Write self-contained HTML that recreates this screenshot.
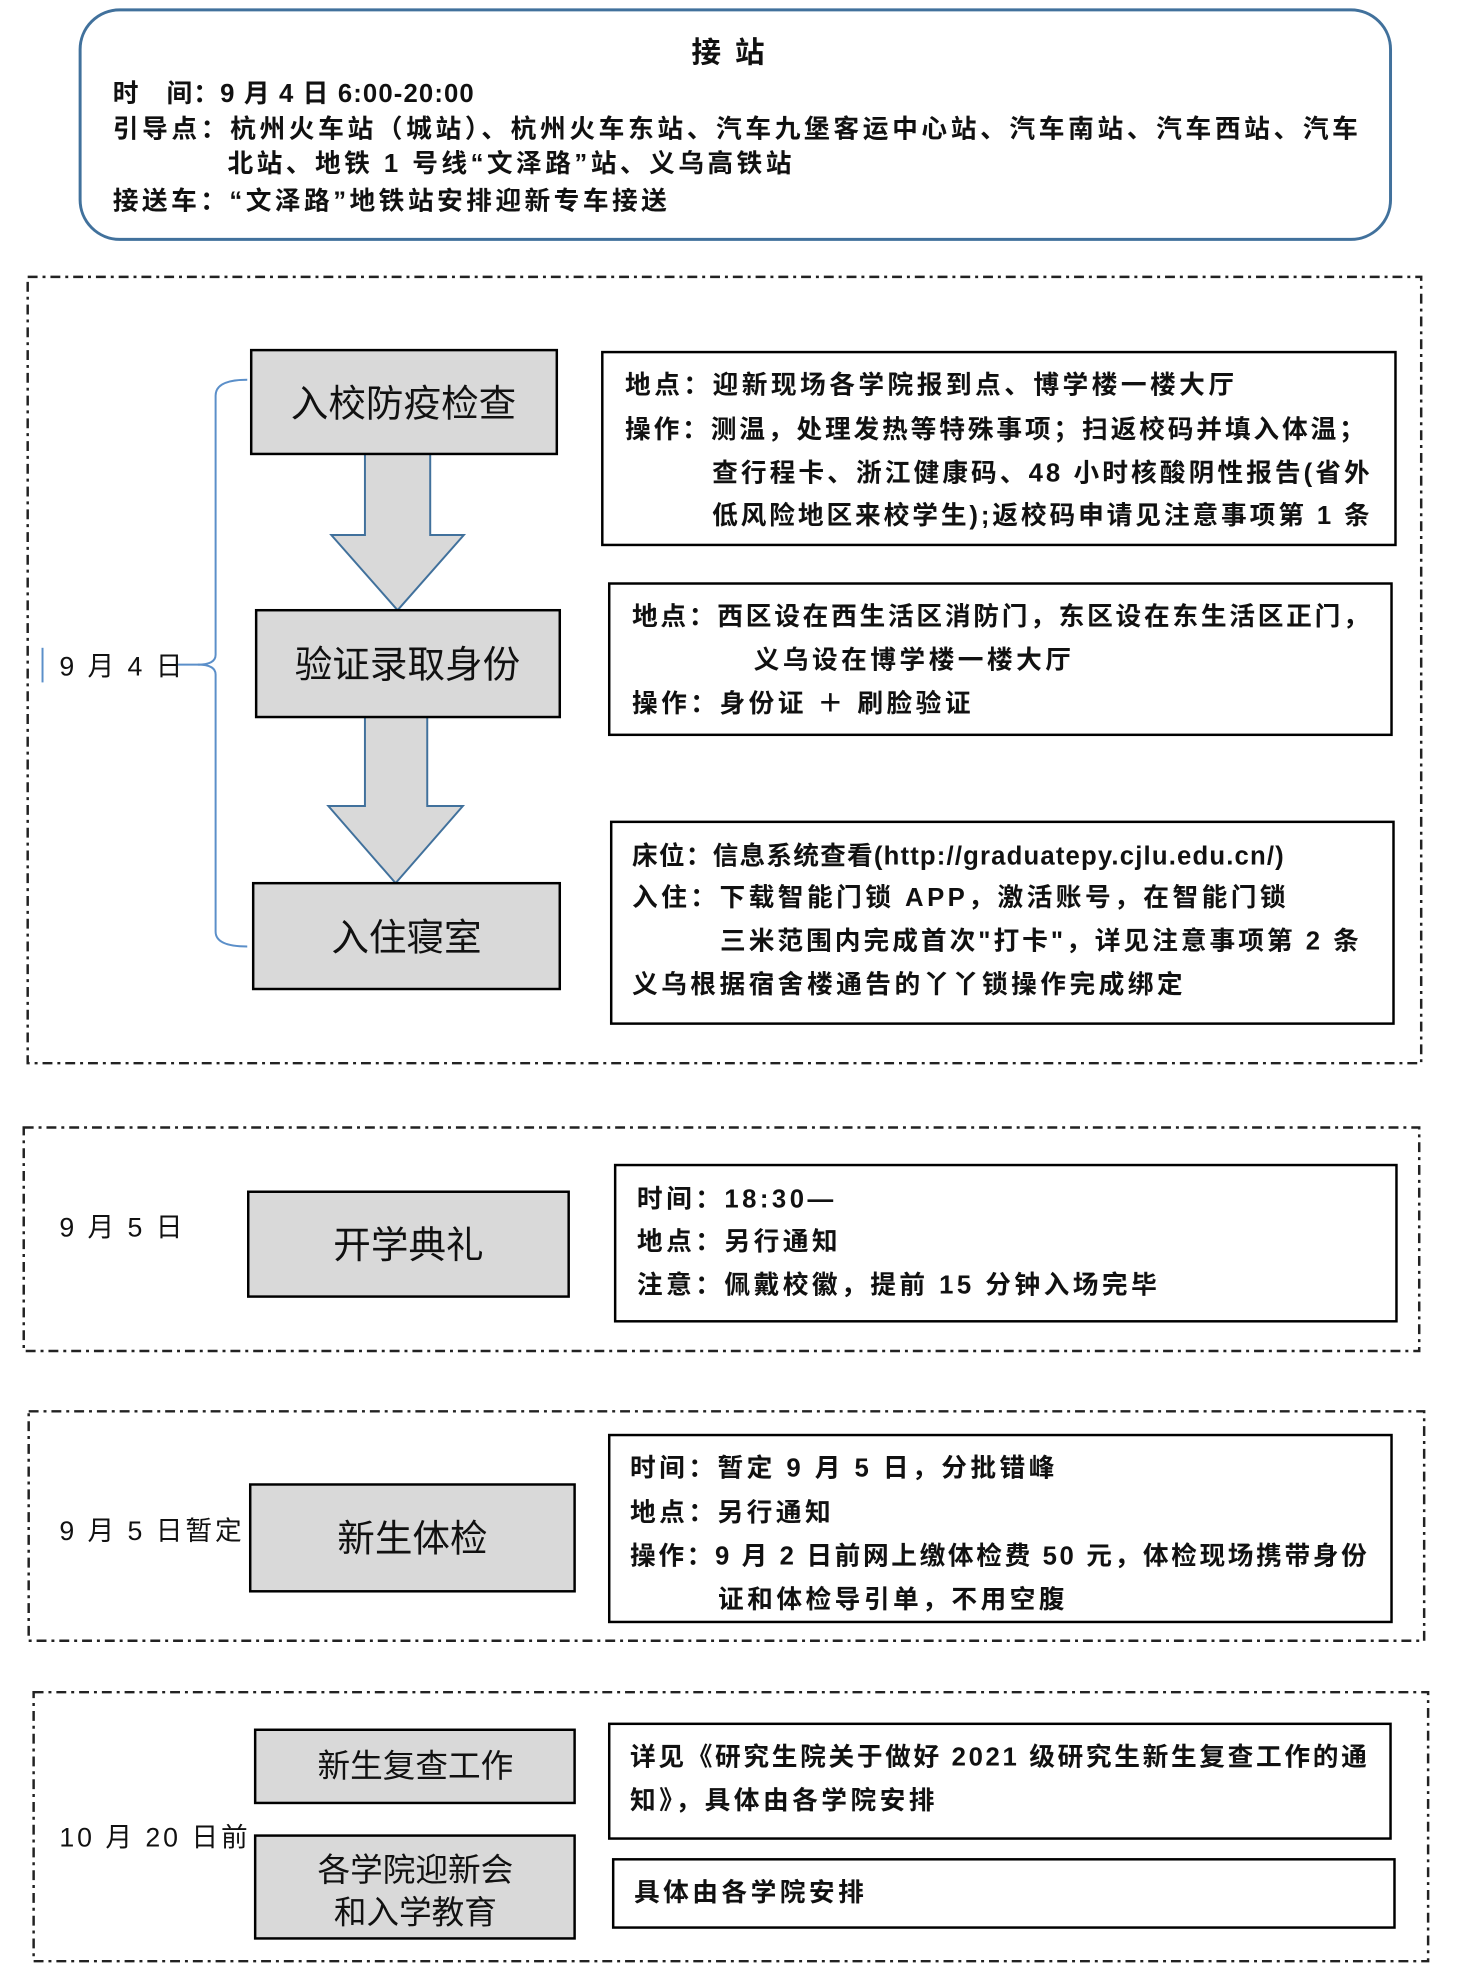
<!DOCTYPE html>
<html><head><meta charset="utf-8"><style>
html,body{margin:0;padding:0;background:#fff}
svg{display:block}
text{font-family:"Liberation Sans","Noto Sans CJK SC",sans-serif;fill:#111}
.t{font-size:26px;font-weight:bold;letter-spacing:3.5px}
.u{font-size:26px;font-weight:bold}
.n{font-size:38px}
.d{font-size:27px;letter-spacing:3px}
</style></head><body>
<svg width="1463" height="1974" viewBox="0 0 1463 1974" xmlns="http://www.w3.org/2000/svg">
<g transform="scale(0.989 0.989)">
<!-- top rounded box -->
<rect x="81" y="10" width="1325" height="232" rx="40" fill="#fff" stroke="#41719c" stroke-width="3"/>
<text x="743" y="63" font-size="30" font-weight="bold" letter-spacing="14" text-anchor="middle">接站</text>
<text class="u" x="114" y="103" textLength="365" lengthAdjust="spacing">时　间：9 月 4 日 6:00-20:00</text>
<text class="u" x="114" y="139" textLength="1259" lengthAdjust="spacing">引导点：杭州火车站（城站）、杭州火车东站、汽车九堡客运中心站、汽车南站、汽车西站、汽车</text>
<text class="t" x="230" y="174">北站、地铁 1 号线“文泽路”站、义乌高铁站</text>
<text class="t" x="114" y="212">接送车：“文泽路”地铁站安排迎新专车接送</text>

<g fill="none" stroke="#222" stroke-width="2.5" stroke-dasharray="10 5 3 5">
<rect x="28" y="280" width="1409" height="795"/>
<rect x="24" y="1140" width="1411" height="226"/>
<rect x="29" y="1427" width="1411" height="232"/>
<rect x="34" y="1711" width="1410" height="272"/>
</g>

<!-- bracket -->
<path d="M250 384 Q218 384 218 400 L218 662 Q218 672 200 672 Q218 672 218 682 L218 942 Q218 957 250 957" fill="none" stroke="#5b8fc9" stroke-width="2"/>
<line x1="180" y1="672" x2="202" y2="672" stroke="#5b8fc9" stroke-width="2"/>
<line x1="43" y1="655" x2="43" y2="690" stroke="#5b8fc9" stroke-width="2"/>
<text class="d" x="60" y="683">9 月 4 日</text>

<!-- arrows -->
<path d="M369 459 L435 459 L435 541 L469 541 L402 617 L335 541 L369 541 Z" fill="#d9d9d9" stroke="#41719c" stroke-width="2"/>
<path d="M369 725 L432 725 L432 815 L468 815 L400 893 L332 815 L369 815 Z" fill="#d9d9d9" stroke="#41719c" stroke-width="2"/>

<!-- nodes -->
<g fill="#d9d9d9" stroke="#000" stroke-width="2.5">
<rect x="254" y="354" width="309" height="105"/>
<rect x="259" y="617" width="307" height="108"/>
<rect x="256" y="893" width="310" height="107"/>
<rect x="251" y="1205" width="324" height="106"/>
<rect x="253" y="1501" width="328" height="108"/>
<rect x="258" y="1749" width="323" height="74"/>
<rect x="258" y="1856" width="323" height="104"/>
</g>
<text class="n" x="408" y="421" text-anchor="middle">入校防疫检查</text>
<text class="n" x="412" y="685" text-anchor="middle">验证录取身份</text>
<text class="n" x="411" y="961" text-anchor="middle">入住寝室</text>
<text class="n" x="413" y="1272" text-anchor="middle">开学典礼</text>
<text class="n" x="417" y="1569" text-anchor="middle">新生体检</text>
<text x="420" y="1797" font-size="33" text-anchor="middle">新生复查工作</text>
<text x="420" y="1902" font-size="33" text-anchor="middle">各学院迎新会</text>
<text x="420" y="1945" font-size="33" text-anchor="middle">和入学教育</text>

<!-- info boxes -->
<g fill="#fff" stroke="#000" stroke-width="2.5">
<rect x="609" y="356" width="802" height="195"/>
<rect x="616" y="590" width="791" height="153"/>
<rect x="618" y="831" width="791" height="204"/>
<rect x="622" y="1178" width="790" height="158"/>
<rect x="616" y="1451" width="791" height="189"/>
<rect x="616" y="1743" width="790" height="116"/>
<rect x="620" y="1880" width="790" height="69"/>
</g>
<text class="t" x="632" y="398">地点：迎新现场各学院报到点、博学楼一楼大厅</text>
<text class="u" x="632" y="443" textLength="748" lengthAdjust="spacing">操作：测温，处理发热等特殊事项；扫返校码并填入体温；</text>
<text class="u" x="720" y="487" textLength="665" lengthAdjust="spacing">查行程卡、浙江健康码、48 小时核酸阴性报告(省外</text>
<text class="u" x="720" y="530" textLength="665" lengthAdjust="spacing">低风险地区来校学生);返校码申请见注意事项第 1 条</text>

<text class="u" x="639" y="632" textLength="745" lengthAdjust="spacing">地点：西区设在西生活区消防门，东区设在东生活区正门，</text>
<text class="t" x="762" y="676">义乌设在博学楼一楼大厅</text>
<text class="t" x="639" y="720">操作：身份证 ＋ 刷脸验证</text>

<text class="u" x="639" y="874" textLength="659" lengthAdjust="spacing">床位：信息系统查看(http://graduatepy.cjlu.edu.cn/)</text>
<text class="t" x="639" y="916">入住：下载智能门锁 APP，激活账号，在智能门锁</text>
<text class="u" x="728" y="960" textLength="646" lengthAdjust="spacing">三米范围内完成首次"打卡"，详见注意事项第 2 条</text>
<text class="t" x="639" y="1004">义乌根据宿舍楼通告的丫丫锁操作完成绑定</text>

<text class="d" x="60" y="1250">9 月 5 日</text>
<text class="t" x="644" y="1221">时间：18:30—</text>
<text class="t" x="644" y="1264">地点：另行通知</text>
<text class="t" x="644" y="1308">注意：佩戴校徽，提前 15 分钟入场完毕</text>

<text class="d" x="60" y="1557">9 月 5 日暂定</text>
<text class="t" x="637" y="1493">时间：暂定 9 月 5 日，分批错峰</text>
<text class="t" x="637" y="1538">地点：另行通知</text>
<text class="u" x="637" y="1582" textLength="745" lengthAdjust="spacing">操作：9 月 2 日前网上缴体检费 50 元，体检现场携带身份</text>
<text class="t" x="726" y="1626">证和体检导引单，不用空腹</text>

<text class="d" x="60" y="1867">10 月 20 日前</text>
<text class="u" x="637" y="1785" textLength="745" lengthAdjust="spacing">详见《研究生院关于做好 2021 级研究生新生复查工作的通</text>
<text class="t" x="637" y="1829">知》，具体由各学院安排</text>
<text class="t" x="641" y="1922">具体由各学院安排</text>
</g>
</svg>
</body></html>
